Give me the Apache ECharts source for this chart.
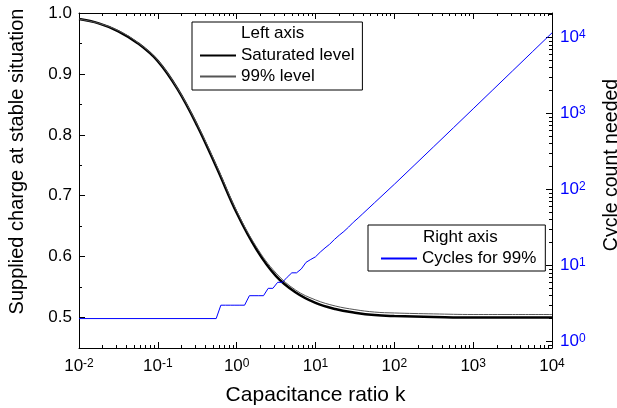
<!DOCTYPE html>
<html><head><meta charset="utf-8">
<script src="https://cdn.jsdelivr.net/npm/echarts@6/dist/echarts.min.js"></script>
<style>html,body{margin:0;padding:0;background:#fff}#c{width:617px;height:408px}</style>
</head><body><div id="c"></div>
<script>
// ---- data ----
const kCurve = [0.01, 0.0178, 0.0316, 0.0562, 0.1, 0.178, 0.316, 0.562, 1, 1.78, 3.16, 5.62, 10, 17.8, 31.6, 56.2, 100, 316, 1000, 3162, 10000];
const saturated = [0.990, 0.983, 0.970, 0.950, 0.921, 0.875, 0.815, 0.745, 0.672, 0.612, 0.568, 0.541, 0.524, 0.514, 0.508, 0.504, 0.5025, 0.501, 0.500, 0.500, 0.500];
const level99 = [0.990, 0.983, 0.971, 0.951, 0.922, 0.876, 0.817, 0.748, 0.675, 0.616, 0.573, 0.545, 0.529, 0.519, 0.513, 0.509, 0.5075, 0.506, 0.505, 0.505, 0.505];
const cyclesK = [0.01, 0.55, 0.63, 0.72, 0.83, 0.95, 1.10, 1.26, 1.45, 1.66, 1.91, 2.19, 2.51, 2.88, 3.31, 3.80, 4.37, 5.01, 5.75, 6.61, 7.59, 8.71, 10.0, 11.5, 13.2, 15.1, 17.4, 20.0, 22.9, 26.3, 30.2, 34.7, 39.8, 56.2, 100, 178, 316, 562, 1000, 1778, 3162, 5623, 10000];
const cyclesN = [2, 2, 3, 3, 3, 3, 3, 3, 4, 4, 4, 4, 5, 5, 6, 6, 7, 8, 8, 9, 11, 12, 13, 15, 17, 19, 22, 25, 28, 32, 37, 42, 48, 67, 117, 207, 366, 649, 1152, 2047, 3639, 6469, 11502];
const xMin = 0.01, xMax = 10000;
const leftMin = 0.45, leftMax = 1.0;
const leftTicks = [0.5, 0.6, 0.7, 0.8, 0.9, 1.0];
const leftMinorTicks = [0.55, 0.65, 0.75, 0.85, 0.95];
const rightMin = 0.82, rightMax = 21000;
const xDecades = [-2, -1, 0, 1, 2, 3, 4];
const rightDecades = [-1, 0, 1, 2, 3, 4];
const minorMult = [2, 3, 4, 5, 6, 7, 8, 9];
const seriesNames = ['Saturated level', '99% level', 'Cycles for 99%'];

// ---- helpers ----
const FONT = '"Liberation Sans", Arial, sans-serif';
const BLUE = '#0000ff';
function minorLogs(decs, lo, hi) {
  const out = [];
  decs.forEach(d => minorMult.forEach(m => {
    const v = m * Math.pow(10, d);
    if (v > lo && v < hi) out.push(Math.log10(v));
  }));
  return out;
}
function powLabel() {
  return function (v) {
    const l = Math.log10(v), e = Math.round(l);
    if (Math.abs(l - e) > 1e-6) return '';
    return '{b|10}{s|' + e + '}';
  };
}
function rich(color) {
  return {
    b: { fontSize: 17, fontFamily: FONT, color: color },
    s: { fontSize: 12, fontFamily: FONT, color: color, verticalAlign: 'top', padding: [0, 0, 4, 0] }
  };
}
const line = { show: true, onZero: false, lineStyle: { color: '#000', width: 1 } };
const noLine = { show: false, onZero: false };
const legendBase = {
  orient: 'vertical', itemGap: 4, itemWidth: 36, itemHeight: 14, borderColor: '#000', borderWidth: 1,
  borderRadius: 0, selectedMode: false, itemStyle: { opacity: 0, borderWidth: 0 },
  textStyle: { fontSize: 17, color: '#000', fontFamily: FONT }
};

const chart = echarts.init(document.getElementById('c'), null, { renderer: 'canvas' });
chart.setOption({
  animation: false,
  backgroundColor: '#fff',
  textStyle: { fontFamily: FONT },
  grid: { left: 79, right: 65, top: 13, bottom: 60, containLabel: false, outerBoundsMode: 'none' },
  title: [
    { text: 'Left axis', left: 241, top: 25, padding: 0, textStyle: { fontSize: 17, fontWeight: 'normal', color: '#000', fontFamily: FONT } },
    { text: 'Right axis', left: 423, top: 229, padding: 0, textStyle: { fontSize: 17, fontWeight: 'normal', color: '#000', fontFamily: FONT } }
  ],
  legend: [
    Object.assign({}, legendBase, { data: [seriesNames[0], seriesNames[1]], left: 192, top: 22, padding: [25, 8, 5, 7] }),
    Object.assign({}, legendBase, { data: [seriesNames[2]], left: 368, top: 225, padding: [25, 9, 4, 12] })
  ],
  xAxis: [
    { type: 'log', logBase: 10, min: xMin, max: xMax, position: 'bottom', axisLine: line,
      axisTick: { show: true, inside: true, length: 6, lineStyle: { color: '#000' } },
      axisLabel: { formatter: powLabel(), rich: rich('#000'), margin: 10, showMinLabel: true, showMaxLabel: true },
      splitLine: { show: false }, minorTick: { show: false },
      name: 'Capacitance ratio k', nameLocation: 'middle', nameGap: 37,
      nameTextStyle: { fontSize: 21, color: '#000', fontFamily: FONT } },
    { type: 'value', min: Math.log10(xMin), max: Math.log10(xMax), position: 'bottom', axisLine: noLine,
      axisTick: { show: true, inside: true, length: 3, customValues: minorLogs(xDecades, xMin, xMax), lineStyle: { color: '#000' } },
      axisLabel: { show: false }, splitLine: { show: false } },
    { type: 'value', min: Math.log10(xMin), max: Math.log10(xMax), position: 'top', axisLine: line,
      axisTick: { show: true, inside: true, length: 6, customValues: xDecades, lineStyle: { color: '#000' } },
      axisLabel: { show: false }, splitLine: { show: false } },
    { type: 'value', min: Math.log10(xMin), max: Math.log10(xMax), position: 'top', axisLine: noLine,
      axisTick: { show: true, inside: true, length: 3, customValues: minorLogs(xDecades, xMin, xMax), lineStyle: { color: '#000' } },
      axisLabel: { show: false }, splitLine: { show: false } }
  ],
  yAxis: [
    { type: 'value', min: leftMin, max: leftMax, position: 'left', axisLine: line,
      axisTick: { show: true, inside: true, length: 6, customValues: leftTicks, lineStyle: { color: '#000' } },
      axisLabel: { customValues: leftTicks, formatter: v => v.toFixed(1), margin: 7, fontSize: 17, color: '#000', fontFamily: FONT },
      splitLine: { show: false },
      name: 'Supplied charge at stable situation', nameLocation: 'middle', nameGap: 52,
      nameTextStyle: { fontSize: 20, color: '#000', fontFamily: FONT, padding: [0, 0, 0, 38] } },
    { type: 'value', min: leftMin, max: leftMax, position: 'left', axisLine: noLine,
      axisTick: { show: true, inside: true, length: 3, customValues: leftMinorTicks, lineStyle: { color: '#000' } },
      axisLabel: { show: false }, splitLine: { show: false } },
    { type: 'log', logBase: 10, min: rightMin, max: rightMax, position: 'right', axisLine: line,
      axisTick: { show: true, inside: true, length: 6, lineStyle: { color: '#000' } },
      axisLabel: { formatter: powLabel(), rich: rich(BLUE), margin: 8, color: BLUE },
      splitLine: { show: false }, minorTick: { show: false },
      name: 'Cycle count needed', nameLocation: 'middle', nameGap: 50,
      nameTextStyle: { fontSize: 19.5, color: '#000', fontFamily: FONT, padding: [0, 0, 0, 31] } },
    { type: 'value', min: Math.log10(rightMin), max: Math.log10(rightMax), position: 'right', axisLine: noLine,
      axisTick: { show: true, inside: true, length: 3, customValues: minorLogs(rightDecades, rightMin, rightMax), lineStyle: { color: '#000' } },
      axisLabel: { show: false }, splitLine: { show: false } }
  ],
  series: [
    { name: seriesNames[0], type: 'line', xAxisIndex: 0, yAxisIndex: 0, symbol: 'none', smooth: 0.4,
      lineStyle: { color: '#000', width: 2.5 }, itemStyle: { color: '#000' },
      data: kCurve.map((k, i) => [k, saturated[i]]) },
    { name: seriesNames[1], type: 'line', xAxisIndex: 0, yAxisIndex: 0, symbol: 'none', smooth: 0.4,
      lineStyle: { color: '#555', width: 1 }, itemStyle: { color: '#555' },
      data: kCurve.map((k, i) => [k, level99[i]]) },
    { name: seriesNames[2], type: 'line', xAxisIndex: 0, yAxisIndex: 2, symbol: 'none',
      lineStyle: { color: BLUE, width: 1 }, itemStyle: { color: BLUE },
      data: cyclesK.map((k, i) => [k, cyclesN[i]]) }
  ]
});
</script></body></html>
